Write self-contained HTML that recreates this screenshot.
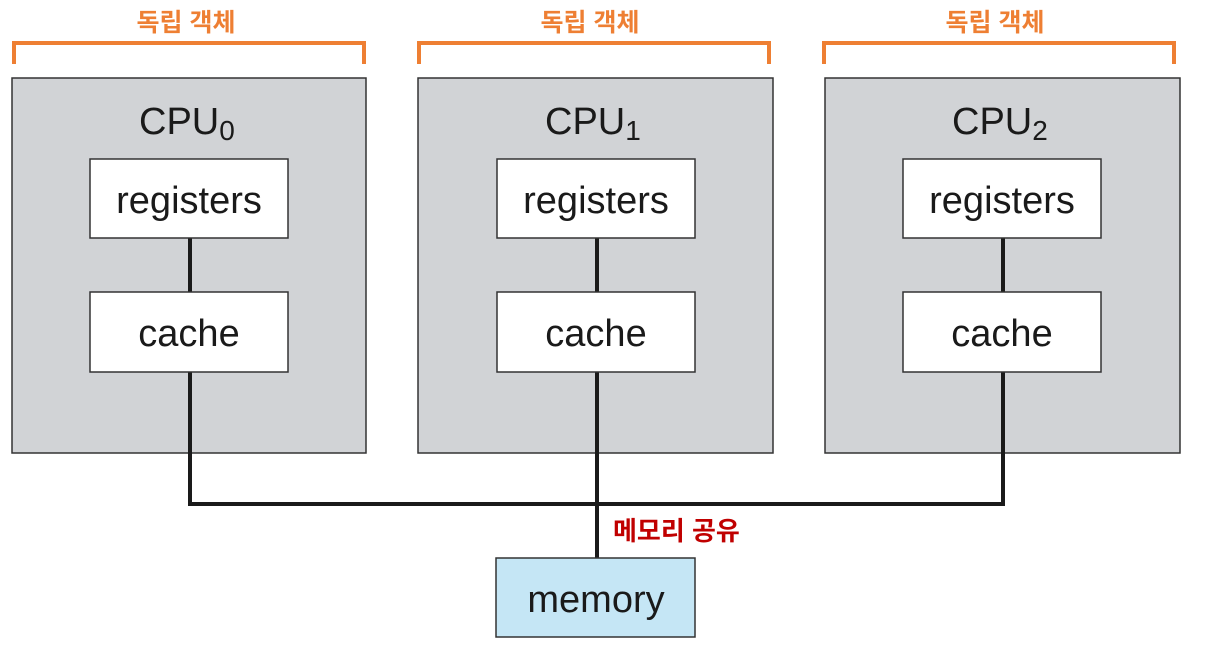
<!DOCTYPE html>
<html><head><meta charset="utf-8"><style>
html,body{margin:0;padding:0;background:#fff;width:1205px;height:664px;overflow:hidden}
svg{display:block}
.ko{font-family:"Liberation Sans","Noto Sans CJK KR",sans-serif;font-weight:bold}
.t{font-family:"Liberation Sans",sans-serif;fill:#1a1a1a}
</style></head><body>
<svg width="1205" height="664" viewBox="0 0 1205 664" xmlns="http://www.w3.org/2000/svg">
<g id="cpus">
  <g stroke="#ee7f33" stroke-width="4" fill="none">
    <path d="M14 64 V43 H364 V64"/>
    <path d="M419 64 V43 H769 V64"/>
    <path d="M824 64 V43 H1174 V64"/>
  </g>
  <g class="ko" fill="#ee7f33" font-size="25" text-anchor="middle">
    <text x="186" y="31">독립 객체</text>
    <text x="590" y="31">독립 객체</text>
    <text x="995" y="31">독립 객체</text>
  </g>
  <g fill="#d1d3d6" stroke="#333" stroke-width="1.5">
    <rect x="12" y="78" width="354" height="375"/>
    <rect x="418" y="78" width="355" height="375"/>
    <rect x="825" y="78" width="355" height="375"/>
  </g>
  <g stroke="#1a1a1a" stroke-width="4" fill="none">
    <path d="M190 238 V292 M597 238 V292 M1003 238 V292"/>
    <path d="M190 372 V504 H1003 V372"/>
    <path d="M597 372 V558"/>
  </g>
  <g fill="#fff" stroke="#333" stroke-width="1.5">
    <rect x="90" y="159" width="198" height="79"/>
    <rect x="90" y="292" width="198" height="80"/>
    <rect x="497" y="159" width="198" height="79"/>
    <rect x="497" y="292" width="198" height="80"/>
    <rect x="903" y="159" width="198" height="79"/>
    <rect x="903" y="292" width="198" height="80"/>
  </g>
  <rect x="496" y="558" width="199" height="79" fill="#c5e6f5" stroke="#333" stroke-width="1.5"/>
  <g class="t" font-size="38" text-anchor="middle">
    <text x="189" y="213">registers</text>
    <text x="189" y="346">cache</text>
    <text x="596" y="213">registers</text>
    <text x="596" y="346">cache</text>
    <text x="1002" y="213">registers</text>
    <text x="1002" y="346">cache</text>
    <text x="596" y="612">memory</text>
  </g>
  <g class="t" font-size="38">
    <text x="139" y="134">CPU<tspan font-size="28" dy="6">0</tspan></text>
    <text x="545" y="134">CPU<tspan font-size="28" dy="6">1</tspan></text>
    <text x="952" y="134">CPU<tspan font-size="28" dy="6">2</tspan></text>
  </g>
  <text class="ko" x="613" y="540" font-size="26" fill="#c00000">메모리 공유</text>
</g>
</svg>
</body></html>
